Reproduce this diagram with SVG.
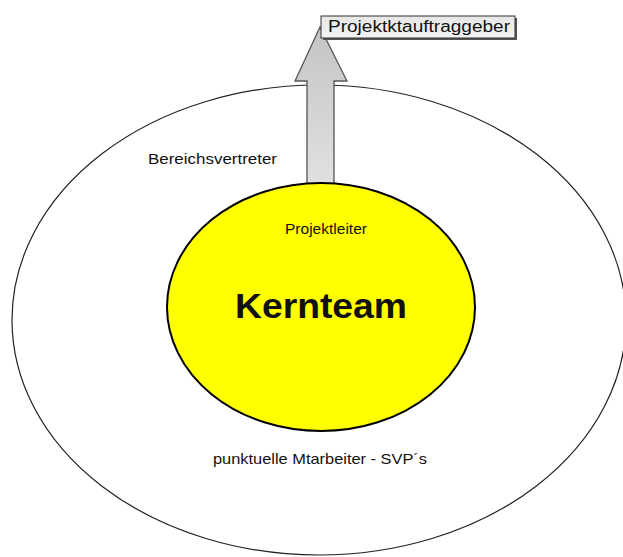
<svg xmlns="http://www.w3.org/2000/svg" width="623" height="557" viewBox="0 0 623 557">
<style>
.t{font-family:"Liberation Sans",Arial,sans-serif;fill:#111}
</style>
<defs>
<linearGradient id="ag" x1="0" y1="0" x2="0" y2="1">
<stop offset="0" stop-color="#c4c4c4"/>
<stop offset="1" stop-color="#e2e2e2"/>
</linearGradient>
<linearGradient id="bg" x1="0" y1="0" x2="0" y2="1">
<stop offset="0" stop-color="#e6e6e6"/>
<stop offset="1" stop-color="#f4f4f4"/>
</linearGradient>
</defs>
<rect width="623" height="557" fill="#fff"/>
<g id="outer">
<ellipse cx="319" cy="320" rx="307" ry="235" fill="none" stroke="#222" stroke-width="1.2"/>
<text class="t" x="148" y="164" font-size="14.5" textLength="129" lengthAdjust="spacingAndGlyphs">Bereichsvertreter</text>
<text class="t" x="213" y="464" font-size="14.5" textLength="214" lengthAdjust="spacingAndGlyphs">punktuelle Mtarbeiter - SVP´s</text>
</g>
<g id="connectors">
<path d="M307,190 L307,81 L295,81 L320,27 L347,81 L334,81 L334,190 Z" fill="url(#ag)" stroke="#555" stroke-width="1.3" stroke-linejoin="miter"/>
</g>
<g id="kernteam">
<ellipse cx="321" cy="307" rx="154" ry="124" fill="#ffff00" stroke="#000" stroke-width="2"/>
<text class="t" x="285" y="234" font-size="14.5" textLength="82" lengthAdjust="spacingAndGlyphs">Projektleiter</text>
<text class="t" x="235" y="318" font-size="35" font-weight="bold" textLength="172" lengthAdjust="spacingAndGlyphs">Kernteam</text>
</g>
<g id="auftraggeber">
<rect x="323" y="18" width="194" height="22" fill="#555"/>
<rect x="321" y="16" width="194" height="22" fill="url(#bg)" stroke="#333" stroke-width="1"/>
<text class="t" x="328" y="32" font-size="16" textLength="182" lengthAdjust="spacingAndGlyphs">Projektktauftraggeber</text>
</g>
</svg>
